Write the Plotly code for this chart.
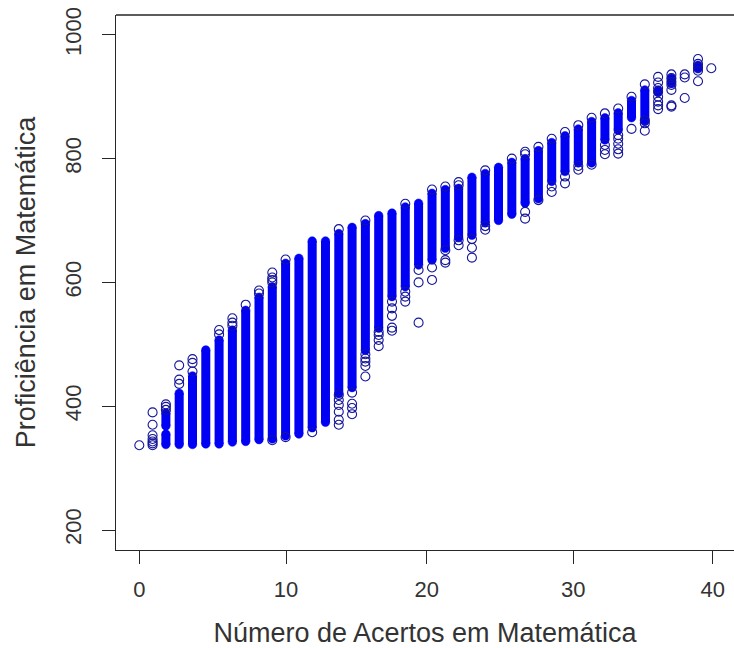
import plotly.graph_objects as go

# Horizontal positions of the 44 columns of points
column_x = [0, 0.93, 1.86, 2.79, 3.72, 4.65, 5.58, 6.51, 7.44, 8.37, 9.30, 10.23, 11.16, 12.09,
            13.02, 13.95, 14.88, 15.81, 16.74, 17.67, 18.60, 19.53, 20.47, 21.40, 22.33, 23.26,
            24.19, 25.12, 26.05, 26.98, 27.91, 28.84, 29.77, 30.70, 31.63, 32.56, 33.49, 34.42,
            35.35, 36.28, 37.21, 38.14, 39.07, 40.0]

# Solid stretches, where circles overlap completely (None = no solid stretch)
solid_low = [None, None, 338, 338, 338, 339, 339, 342, 343, 346, 347, 352, 355, 365, 374, 420, 430,
             490, 526, 577, 593, 628, 636, 655, 672, 676, 696, 700, 710, 728, 735, 763, 779, 793,
             793, 830, 846, 866, 860, None, None, None, None, None]
solid_high = [None, None, 355, 421, 449, 491, 507, 523, 555, 576, 593, 631, 639, 667, 667, 679, 689,
              695, 708, 712, 722, 728, 744, 750, 752, 770, 776, 786, 794, 800, 813, 826, 837, 848,
              860, 866, 874, 894, 911, None, None, None, None, None]

# Extra solid stretches (third column and the sparse columns on the right)
extra_solid_x = [1.86, 36.28, 37.21, 39.07]
extra_solid_low = [368, 907, 921, 945]
extra_solid_high = [389, 911, 930, 951]

# Separately visible circles, by column
open_points = [
    [337],
    [390, 370, 353, 347, 343, 340, 337],
    [403, 399, 394],
    [466, 443, 436],
    [476, 470, 456],
    [],
    [523, 516],
    [542, 535, 530],
    [564],
    [587, 582],
    [616, 608, 604, 600, 345],
    [637, 350],
    [],
    [358],
    [],
    [686, 370, 378, 391, 402, 410, 418],
    [387, 397, 404, 422],
    [700, 448, 465, 472, 477, 484],
    [497, 507, 515, 520],
    [522, 527, 546, 558, 569],
    [727, 569, 577, 585],
    [535, 600, 620],
    [750, 604, 624],
    [755, 632, 636, 652],
    [762, 757, 660, 668],
    [640, 656, 670],
    [781, 685, 691],
    [],
    [800],
    [807, 811, 703, 714],
    [819, 733],
    [832, 746, 755],
    [843, 760, 771],
    [854, 782, 788],
    [866, 790],
    [873, 807, 814, 822],
    [881, 808, 815, 824, 832, 838],
    [900, 848],
    [920, 862, 857, 845],
    [932, 923, 914, 908, 900, 892, 886, 880],
    [936, 930, 924, 919, 911, 886, 884],
    [936, 931, 898],
    [961, 953, 947, 942, 925],
    [946],
]

x_tick_positions = [0, 10.26, 20.10, 30.35, 40.10]
x_tick_labels = ["0", "10", "20", "30", "40"]
y_tick_values = [200, 400, 600, 800, 1000]
y_tick_labels = ["200", "400", "600", "800", "1000"]

BLUE = "#0000f5"
EDGE = "#15159a"
TEXT = "#333333"
AXIS = "#262626"
FONT = "Liberation Sans, Arial, sans-serif"

# Build the solid stretches
line_x, line_y, cap_x, cap_y = [], [], [], []
triples = [(x, lo, hi) for x, lo, hi in zip(column_x, solid_low, solid_high) if lo is not None]
triples += list(zip(extra_solid_x, extra_solid_low, extra_solid_high))
for x, lo, hi in triples:
    line_x += [x, x, None]
    line_y += [lo, hi, None]
    cap_x += [x, x]
    cap_y += [lo, hi]

open_x, open_y = [], []
for x, values in zip(column_x, open_points):
    for v in values:
        open_x.append(x)
        open_y.append(v)

fig = go.Figure()
fig.add_trace(go.Scatter(x=line_x, y=line_y, mode="lines", hoverinfo="skip",
                         line=dict(color=BLUE, width=9)))
fig.add_trace(go.Scatter(x=cap_x, y=cap_y, mode="markers", hoverinfo="skip",
                         marker=dict(symbol="circle", size=8.5, color=BLUE,
                                     line=dict(color=BLUE, width=0.5))))
fig.add_trace(go.Scatter(x=open_x, y=open_y, mode="markers",
                         marker=dict(symbol="circle-open", size=9,
                                     line=dict(color=EDGE, width=1.1), color=EDGE)))

fig.update_layout(
    width=734, height=648, autosize=False, showlegend=False,
    paper_bgcolor="white", plot_bgcolor="white",
    margin=dict(l=116, r=0, t=15, b=98, pad=0),
    font=dict(family=FONT, color=TEXT, size=23),
    shapes=[dict(type="line", xref="paper", yref="paper", x0=0, x1=1, y0=1, y1=1,
                 line=dict(color=AXIS, width=1.4))],
)
fig.update_xaxes(
    range=[-1.629, 41.587], showgrid=False, zeroline=False, showline=True, linecolor=AXIS,
    linewidth=1.4, ticks="outside", ticklen=13, tickcolor=AXIS, tickwidth=1.2,
    tickmode="array", tickvals=x_tick_positions, ticktext=x_tick_labels,
    ticklabelstandoff=6, tickfont=dict(size=22, color=TEXT, family=FONT),
    title=dict(text="Número de Acertos em Matemática", standoff=25,
               font=dict(size=27, color=TEXT, family=FONT)),
)
fig.update_yaxes(
    range=[167.7, 1032], showgrid=False, zeroline=False, showline=True, linecolor=AXIS,
    linewidth=1.4, ticks="outside", ticklen=13, tickcolor=AXIS, tickwidth=1.2,
    tickmode="array", tickvals=y_tick_values, ticktext=y_tick_labels, tickangle=-90,
    ticklabelstandoff=12, tickfont=dict(size=22, color=TEXT, family=FONT),
    title=dict(text="Proficiência em Matemática", standoff=17,
               font=dict(size=27, color=TEXT, family=FONT)),
)

fig.write_html("out.html", post_script="document.body.style.margin='0';document.body.style.overflow='hidden';",
               config=dict(displayModeBar=False))
